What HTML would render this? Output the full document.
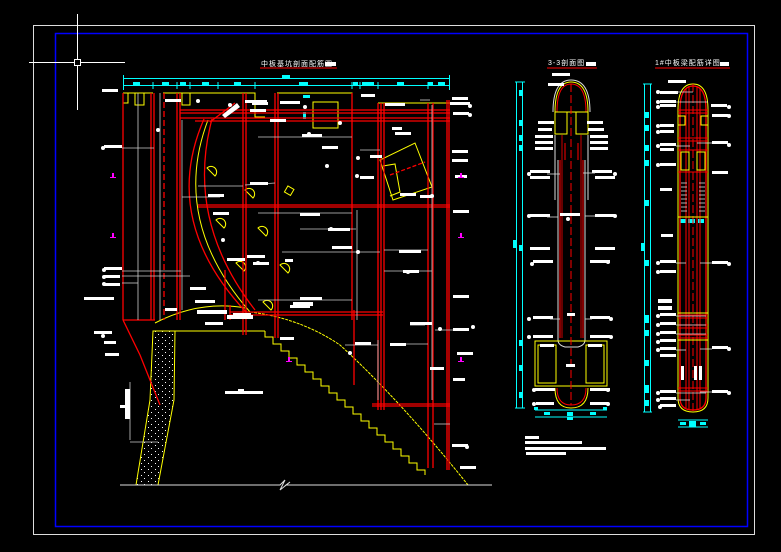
<!DOCTYPE html>
<html><head><meta charset="utf-8"><style>
html,body{margin:0;padding:0;background:#000;width:781px;height:552px;overflow:hidden}
svg{display:block}
text{font-family:"Liberation Sans","Noto Sans CJK SC",sans-serif}
</style></head><body>
<svg width="781" height="552" viewBox="0 0 781 552" xmlns="http://www.w3.org/2000/svg">
<defs>
<pattern id="dots" width="7" height="6" patternUnits="userSpaceOnUse">
<rect x="1" y="1" width="1" height="1" fill="#fff"/><rect x="4" y="4" width="1" height="1" fill="#fff"/>
</pattern>
</defs>
<rect width="781" height="552" fill="#000"/>
<!-- frames -->
<rect x="33.5" y="25.5" width="721" height="509" fill="none" stroke="#ddd" stroke-width="1"/>
<rect x="55.5" y="33.5" width="692" height="493" fill="none" stroke="#0000ff" stroke-width="1.5"/>
<!-- crosshair -->
<g stroke="#fff" stroke-width="1" fill="none">
<line x1="77.5" y1="14" x2="77.5" y2="110"/><line x1="29" y1="62.5" x2="125" y2="62.5"/>
<rect x="74.5" y="59.5" width="6" height="6" fill="#000"/>
</g>

<!-- LEFT DRAWING -->
<text x="261" y="66" font-size="7" fill="#fff" letter-spacing="1">中板基坑剖面配筋图</text>
<rect x="325" y="62" width="11" height="4" fill="#fff"/>
<line x1="260" y1="68" x2="337" y2="68" stroke="#f00"/>
<!-- dimension lines -->
<g stroke="#0ff" stroke-width="1" fill="none">
<line x1="123" y1="78.5" x2="450" y2="78.5"/><line x1="123" y1="85.5" x2="450" y2="85.5"/>
<line x1="123.5" y1="75" x2="123.5" y2="90"/><line x1="449.5" y1="75" x2="449.5" y2="90"/>
<line x1="153" y1="82" x2="153" y2="89"/><line x1="177" y1="82" x2="177" y2="89"/><line x1="190" y1="82" x2="190" y2="89"/>
<line x1="218" y1="82" x2="218" y2="89"/><line x1="255" y1="82" x2="255" y2="89"/><line x1="352" y1="82" x2="352" y2="89"/>
<line x1="360" y1="82" x2="360" y2="89"/><line x1="378" y1="82" x2="378" y2="89"/><line x1="428" y1="82" x2="428" y2="89"/>
</g>
<g fill="#0ff">
<rect x="282" y="75" width="8" height="4"/>
<rect x="133" y="82" width="7" height="3"/><rect x="162" y="82" width="7" height="3"/><rect x="180" y="82" width="6" height="3"/>
<rect x="202" y="82" width="7" height="3"/><rect x="234" y="82" width="7" height="3"/><rect x="299" y="82" width="9" height="3"/>
<rect x="353" y="82" width="5" height="3"/><rect x="362" y="82" width="5" height="3"/><rect x="367" y="82" width="7" height="3"/>
<rect x="397" y="82" width="7" height="3"/><rect x="428" y="82" width="5" height="3"/><rect x="438" y="82" width="7" height="3"/>
<rect x="303" y="95" width="7" height="3"/><rect x="303" y="112" width="3" height="7"/>
</g>
<!-- yellow outlines -->
<g stroke="#ff0" stroke-width="1" fill="none">
<path d="M123 93 H153 M123 93 V103 H128 V93 M135 93 V105 H144 V93"/>
<path d="M163 93 H220 M182 93 V105 H190 V93 M190 93 H255 V117 H265"/>
<path d="M277 93 H352 V117"/>
<rect x="313" y="102" width="25" height="26"/>
<path d="M378 103 H450 M378 103 V112"/>
<path d="M380 160 L415 143 L432 187 L393 200 Z"/>
<path d="M383 166 L395 164 L400 192 L390 196"/>
<path d="M383 207 H450"/>
<path d="M155 323 Q200 300 245 308"/>
<path d="M155 331 H265"/>
<path d="M265 331 h0 v6 h8 v7 h8 v7 h8 v7 h8 v7 h8 v7 h8 v7 h8 v7 h8 v7 h8 v7 h8 v7 h8 v7 h8 v7 h8 v7 h8 v7 h8 v7 h8 v7 h8 v7 h8 v7 h8 v7 h8 v5"/>
<path d="M250 312 Q300 318 340 345 Q400 400 468 485" stroke-dasharray="3 1"/>
<path d="M208 120 Q170 220 250 312"/>
<!-- small yellow loops -->
<path d="M207 168 a5 5 0 1 1 8 8 z"/><path d="M245 190 a5 5 0 1 1 8 8 z"/><path d="M258 228 a5 5 0 1 1 8 8 z"/>
<path d="M236 263 a5 5 0 1 1 8 8 z"/><path d="M280 265 a5 5 0 1 1 8 8 z"/><path d="M263 302 a5 5 0 1 1 8 8 z"/>
<path d="M216 220 a5 5 0 1 1 8 8 z"/>
<rect x="286" y="187" width="7" height="7" transform="rotate(30 289 190)"/>
<!-- concrete pile -->
<path d="M153 331 L175 331 L174 400 L158 485 L136 485 L150 400 Z" fill="url(#dots)"/>
</g>
<!-- red structure -->
<g stroke="#f00" stroke-width="1.3" fill="none">
<line x1="123" y1="93" x2="123" y2="320"/><path d="M123 320 L140 355 L160 405"/>
<line x1="151" y1="93" x2="151" y2="320"/><line x1="154" y1="93" x2="154" y2="320"/>
<line x1="164" y1="93" x2="164" y2="320" stroke-dasharray="6 3"/>
<line x1="177" y1="93" x2="177" y2="320"/><line x1="180" y1="93" x2="180" y2="320"/>
<line x1="123" y1="320" x2="155" y2="320"/>
<line x1="180" y1="110" x2="450" y2="110"/><line x1="180" y1="113" x2="450" y2="113"/>
<line x1="180" y1="118" x2="450" y2="118"/><line x1="195" y1="121" x2="450" y2="121"/>
<line x1="243" y1="93" x2="243" y2="335"/><line x1="246" y1="93" x2="246" y2="335"/>
<line x1="275" y1="93" x2="275" y2="338"/><line x1="278" y1="93" x2="278" y2="338"/>
<line x1="352" y1="93" x2="352" y2="320"/>
<line x1="378" y1="103" x2="378" y2="410"/><line x1="381" y1="103" x2="381" y2="410"/><line x1="384" y1="103" x2="384" y2="410"/>
<line x1="428" y1="103" x2="428" y2="468"/><line x1="433" y1="103" x2="433" y2="468"/>
<line x1="447" y1="100" x2="447" y2="470"/><line x1="449" y1="100" x2="449" y2="470"/>
<line x1="198" y1="205" x2="450" y2="205"/><line x1="198" y1="207" x2="450" y2="207"/>
<line x1="230" y1="312" x2="383" y2="312"/><line x1="230" y1="315" x2="383" y2="315"/>
<line x1="372" y1="404" x2="450" y2="404"/><line x1="372" y1="406" x2="450" y2="406"/>
<line x1="354" y1="310" x2="354" y2="385"/>
<path d="M204 119 Q160 220 246 312"/>
<path d="M212 119 Q185 220 255 310"/>
<line x1="230" y1="305" x2="230" y2="320"/><line x1="225" y1="270" x2="225" y2="320"/>
<line x1="235" y1="103" x2="210" y2="122"/>
<line x1="390" y1="175" x2="425" y2="162" stroke-dasharray="4 2"/>
</g>
<!-- ground line -->
<path d="M120 485 H280 L285 480 L280 490 L290 482 L286 485 H492" stroke="#ddd" fill="none"/>
<!-- white leaders left drawing -->
<g stroke="#ccc" stroke-width="0.8" fill="none">
<line x1="138" y1="93" x2="138" y2="320"/>
<line x1="160" y1="93" x2="160" y2="320"/>
<line x1="182" y1="120" x2="182" y2="310"/>
<line x1="258" y1="137" x2="352" y2="137"/><line x1="258" y1="213" x2="352" y2="213"/>
<line x1="258" y1="300" x2="352" y2="300"/><line x1="360" y1="150" x2="380" y2="150"/>
<line x1="122" y1="148" x2="154" y2="148"/><line x1="122" y1="271" x2="181" y2="271"/>
<line x1="122" y1="276" x2="190" y2="276"/><line x1="122" y1="283" x2="138" y2="283"/>
<line x1="198" y1="186" x2="243" y2="186"/><line x1="182" y1="197" x2="220" y2="197"/>
<line x1="245" y1="185" x2="275" y2="183"/><line x1="300" y1="229" x2="356" y2="229"/>
<line x1="357" y1="210" x2="357" y2="320"/><line x1="282" y1="252" x2="380" y2="252"/>
<line x1="384" y1="250" x2="428" y2="250"/><line x1="384" y1="271" x2="432" y2="271"/>
<line x1="432" y1="105" x2="432" y2="400"/><line x1="420" y1="100" x2="430" y2="100"/>
<line x1="410" y1="325" x2="425" y2="325"/><line x1="390" y1="344" x2="428" y2="344"/>
<line x1="435" y1="330" x2="460" y2="330"/><line x1="434" y1="424" x2="450" y2="424"/>
<line x1="345" y1="345" x2="378" y2="345"/><line x1="378" y1="340" x2="378" y2="400"/>
<line x1="130" y1="382" x2="130" y2="440"/><line x1="130" y1="442" x2="158" y2="442"/>
</g>
<g fill="#fff">
<rect x="102" y="89" width="16" height="3"/><rect x="165" y="99" width="16" height="3"/><rect x="245" y="100" width="22" height="3"/>
<rect x="252" y="102" width="16" height="3"/><rect x="280" y="101" width="20" height="3"/><rect x="250" y="109" width="16" height="3"/>
<rect x="270" y="119" width="16" height="3"/><rect x="302" y="134" width="20" height="3"/><rect x="322" y="146" width="16" height="3"/>
<rect x="361" y="94" width="14" height="3"/><rect x="385" y="103" width="20" height="3"/><rect x="452" y="97" width="16" height="3"/>
<rect x="450" y="102" width="20" height="3"/><rect x="453" y="112" width="16" height="3"/><rect x="392" y="127" width="10" height="3"/>
<rect x="395" y="132" width="16" height="3"/><rect x="370" y="155" width="12" height="3"/><rect x="360" y="176" width="14" height="3"/>
<rect x="452" y="150" width="16" height="3"/><rect x="452" y="159" width="16" height="3"/><rect x="455" y="175" width="12" height="3"/>
<rect x="453" y="210" width="16" height="3"/><rect x="400" y="193" width="16" height="3"/><rect x="420" y="195" width="12" height="3"/>
<rect x="104" y="145" width="18" height="3"/><rect x="250" y="182" width="18" height="3"/><rect x="208" y="194" width="16" height="3"/>
<rect x="213" y="212" width="16" height="3"/><rect x="300" y="213" width="20" height="3"/><rect x="328" y="228" width="22" height="3"/>
<rect x="227" y="258" width="18" height="3"/><rect x="332" y="246" width="20" height="3"/><rect x="399" y="250" width="22" height="3"/>
<rect x="247" y="255" width="18" height="3"/><rect x="253" y="262" width="16" height="3"/><rect x="285" y="259" width="8" height="3"/>
<rect x="403" y="270" width="16" height="3"/><rect x="104" y="267" width="18" height="3"/><rect x="104" y="275" width="16" height="3"/>
<rect x="104" y="283" width="16" height="3"/><rect x="84" y="297" width="30" height="3"/><rect x="94" y="331" width="18" height="3"/>
<rect x="104" y="341" width="12" height="3"/><rect x="105" y="353" width="14" height="3"/><rect x="190" y="287" width="16" height="3"/>
<rect x="300" y="297" width="22" height="3"/><rect x="195" y="300" width="20" height="3"/><rect x="453" y="295" width="16" height="3"/>
<rect x="410" y="322" width="22" height="3"/><rect x="453" y="328" width="16" height="3"/><rect x="390" y="343" width="16" height="3"/>
<rect x="355" y="342" width="16" height="3"/><rect x="290" y="305" width="20" height="3"/><rect x="165" y="308" width="12" height="3"/>
<rect x="233" y="313" width="18" height="3"/><rect x="197" y="310" width="30" height="4"/><rect x="227" y="315" width="26" height="4"/>
<rect x="293" y="302" width="20" height="4"/><rect x="205" y="322" width="18" height="3"/><rect x="280" y="337" width="14" height="3"/>
<rect x="125" y="389" width="5" height="30"/><rect x="120" y="405" width="10" height="3"/><rect x="452" y="444" width="16" height="3"/>
<rect x="460" y="466" width="16" height="3"/><rect x="225" y="391" width="38" height="3"/><rect x="238" y="389" width="6" height="2"/>
<rect x="457" y="352" width="16" height="3"/><rect x="453" y="378" width="12" height="3"/><rect x="430" y="367" width="14" height="3"/>
<circle cx="103" cy="148" r="2"/><circle cx="158" cy="130" r="2"/><circle cx="309" cy="134" r="2"/><circle cx="265" cy="102" r="2"/>
<circle cx="198" cy="101" r="2"/><circle cx="340" cy="123" r="2"/><circle cx="327" cy="166" r="2"/><circle cx="357" cy="176" r="2"/>
<circle cx="358" cy="158" r="2"/><circle cx="470" cy="106" r="2"/><circle cx="470" cy="115" r="2"/><circle cx="432" cy="196" r="2"/>
<circle cx="223" cy="240" r="2"/><circle cx="331" cy="229" r="2"/><circle cx="258" cy="263" r="2"/><circle cx="358" cy="252" r="2"/>
<circle cx="408" cy="272" r="2"/><circle cx="440" cy="329" r="2"/><circle cx="473" cy="327" r="2"/><circle cx="350" cy="353" r="2"/>
<circle cx="104" cy="270" r="2"/><circle cx="104" cy="277" r="2"/><circle cx="104" cy="284" r="2"/><circle cx="103" cy="336" r="2"/>
<circle cx="467" cy="447" r="2"/><circle cx="305" cy="107" r="2"/><circle cx="230" cy="105" r="2"/>
</g>
<path d="M222 115 L237 103 L240 107 L225 118 Z" fill="#fff"/>
<g fill="#f0f"><rect x="112" y="173" width="2" height="4"/><rect x="110" y="177" width="6" height="1"/>
<rect x="112" y="233" width="2" height="4"/><rect x="110" y="237" width="6" height="1"/>
<rect x="460" y="173" width="2" height="4"/><rect x="458" y="177" width="6" height="1"/>
<rect x="460" y="233" width="2" height="4"/><rect x="458" y="237" width="6" height="1"/>
<rect x="288" y="357" width="2" height="4"/><rect x="286" y="361" width="6" height="1"/>
<rect x="460" y="357" width="2" height="4"/><rect x="458" y="361" width="6" height="1"/></g>

<!-- MIDDLE DRAWING 3-3 -->
<text x="548" y="65" font-size="7" fill="#fff" letter-spacing="1">3-3剖面图</text>
<rect x="586" y="62" width="10" height="4" fill="#fff"/>
<line x1="547" y1="68" x2="597" y2="68" stroke="#f00"/>
<g stroke="#0ff" fill="none">
<line x1="516.5" y1="82" x2="516.5" y2="408"/><line x1="522.5" y1="82" x2="522.5" y2="408"/>
<line x1="515" y1="82" x2="525" y2="82"/><line x1="515" y1="408" x2="525" y2="408"/>
<line x1="535" y1="410" x2="607" y2="410"/><line x1="535" y1="417" x2="607" y2="417"/>
</g>
<g fill="#0ff"><rect x="513" y="240" width="3" height="8"/><rect x="519" y="90" width="3" height="6"/><rect x="519" y="120" width="3" height="6"/>
<rect x="519" y="135" width="3" height="6"/><rect x="519" y="145" width="3" height="6"/><rect x="519" y="245" width="3" height="6"/>
<rect x="519" y="340" width="3" height="6"/><rect x="519" y="365" width="3" height="6"/><rect x="519" y="392" width="3" height="6"/>
<rect x="544" y="412" width="6" height="3"/><rect x="567" y="412" width="6" height="4"/><rect x="590" y="412" width="6" height="3"/>
<rect x="567" y="417" width="6" height="3"/><rect x="534" y="407" width="4" height="3"/><rect x="603" y="407" width="4" height="3"/></g>
<g fill="none" stroke-width="1">
<path d="M555 112 Q555 82 571 82 Q588 82 588 112 Z" stroke="#ff0"/>
<path d="M557 112 Q557 84 571 84 Q586 84 586 112" stroke="#f00"/>
<path d="M553 112 Q553 80 571 80 Q590 80 590 112" stroke="#ddd"/>
<path d="M555 112 V133 M588 112 V133" stroke="#ff0"/>
<rect x="555" y="112" width="12" height="22" stroke="#ff0"/><rect x="576" y="112" width="12" height="22" stroke="#ff0"/>
<path d="M558 160 V340 Q558 345 565 347 H578 Q585 345 585 340 V160" stroke="#ddd"/>
<path d="M560 160 V338 M583 160 V338" stroke="#f00"/>
<path d="M562 135 V338 M581 135 V338" stroke="#f00" stroke-width="0.8"/>
<path d="M555 135 V200 M588 135 V200" stroke="#ddd"/>
<rect x="535" y="341" width="72" height="45" stroke="#ff0"/>
<rect x="538" y="345" width="18" height="38" stroke="#ff0"/><rect x="586" y="345" width="18" height="38" stroke="#ff0"/>
<path d="M555 388 Q555 408 571 408 Q588 408 588 388" stroke="#ff0"/>
<path d="M557 388 Q557 405 571 405 Q586 405 586 388" stroke="#f00"/>
<line x1="571" y1="84" x2="571" y2="405" stroke="#f00" stroke-dasharray="8 3"/>
<line x1="565" y1="143" x2="565" y2="160" stroke="#f00"/><line x1="578" y1="143" x2="578" y2="160" stroke="#f00"/>
</g>
<g fill="#fff">
<rect x="552" y="73" width="18" height="3"/><rect x="548" y="83" width="16" height="3"/>
<rect x="538" y="121" width="16" height="3"/><rect x="538" y="128" width="14" height="3"/><rect x="535" y="135" width="18" height="3"/>
<rect x="535" y="141" width="18" height="3"/><rect x="535" y="147" width="18" height="3"/><rect x="587" y="121" width="16" height="3"/>
<rect x="588" y="128" width="16" height="3"/><rect x="590" y="135" width="18" height="3"/><rect x="590" y="141" width="18" height="3"/>
<rect x="590" y="147" width="18" height="3"/><rect x="530" y="170" width="20" height="3"/><rect x="530" y="176" width="20" height="3"/>
<rect x="592" y="170" width="20" height="3"/><rect x="595" y="176" width="20" height="3"/><rect x="530" y="214" width="20" height="3"/>
<rect x="560" y="213" width="20" height="3"/><rect x="595" y="214" width="20" height="3"/><rect x="530" y="247" width="20" height="3"/>
<rect x="595" y="247" width="20" height="3"/><rect x="533" y="260" width="20" height="3"/><rect x="590" y="260" width="20" height="3"/>
<rect x="567" y="313" width="8" height="3"/><rect x="533" y="316" width="20" height="3"/><rect x="590" y="316" width="20" height="3"/>
<rect x="533" y="335" width="20" height="3"/><rect x="590" y="335" width="20" height="3"/><rect x="540" y="344" width="14" height="3"/>
<rect x="588" y="344" width="14" height="3"/><rect x="566" y="364" width="9" height="3"/><rect x="535" y="388" width="20" height="3"/>
<rect x="590" y="388" width="20" height="3"/><rect x="536" y="402" width="18" height="3"/><rect x="590" y="402" width="18" height="3"/>
<rect x="525" y="436" width="14" height="3"/><rect x="525" y="441" width="57" height="3"/><rect x="525" y="447" width="81" height="3"/>
<rect x="526" y="452" width="40" height="3"/>
<circle cx="529" cy="174" r="2"/><circle cx="615" cy="174" r="2"/><circle cx="529" cy="216" r="2"/><circle cx="615" cy="216" r="2"/>
<circle cx="529" cy="319" r="2"/><circle cx="611" cy="319" r="2"/><circle cx="529" cy="337" r="2"/><circle cx="611" cy="337" r="2"/>
<circle cx="534" cy="390" r="2"/><circle cx="608" cy="390" r="2"/><circle cx="534" cy="404" r="2"/><circle cx="608" cy="404" r="2"/>
<circle cx="532" cy="264" r="2"/><circle cx="608" cy="262" r="2"/><circle cx="568" cy="219" r="2"/>
</g>

<!-- RIGHT DRAWING -->
<text x="655" y="65" font-size="7" fill="#fff" letter-spacing="1">1#中板梁配筋详图</text>
<rect x="720" y="62" width="9" height="4" fill="#fff"/>
<line x1="655" y1="68" x2="730" y2="68" stroke="#f00"/>
<g stroke="#0ff" fill="none">
<line x1="644.5" y1="84" x2="644.5" y2="412"/><line x1="650.5" y1="84" x2="650.5" y2="412"/>
<line x1="643" y1="84" x2="652" y2="84"/><line x1="643" y1="412" x2="652" y2="412"/>
<line x1="678" y1="420" x2="708" y2="420"/><line x1="678" y1="427" x2="708" y2="427"/>
</g>
<g fill="#0ff"><rect x="641" y="243" width="3" height="8"/><rect x="645" y="112" width="4" height="6"/><rect x="645" y="125" width="4" height="6"/>
<rect x="645" y="145" width="4" height="6"/><rect x="645" y="160" width="4" height="6"/><rect x="645" y="200" width="4" height="6"/>
<rect x="645" y="260" width="4" height="6"/><rect x="645" y="315" width="4" height="8"/><rect x="645" y="330" width="4" height="6"/>
<rect x="645" y="360" width="4" height="6"/><rect x="645" y="385" width="4" height="8"/><rect x="645" y="400" width="4" height="6"/>
<rect x="680" y="219" width="6" height="4"/><rect x="688" y="219" width="7" height="4"/><rect x="698" y="219" width="6" height="4"/>
<rect x="680" y="422" width="6" height="3"/><rect x="689" y="421" width="7" height="6"/><rect x="700" y="422" width="6" height="3"/></g>
<g fill="none">
<path d="M678 110 Q678 84 693 84 Q708 84 708 110 V398 Q708 412 693 412 Q678 412 678 398 Z" stroke="#ff0"/>
<path d="M680 110 Q680 86 693 86 Q706 86 706 110 V398 Q706 410 693 410 Q680 410 680 398 Z" stroke="#f00" stroke-width="1.3"/>
<line x1="686" y1="88" x2="686" y2="408" stroke="#f00"/><line x1="689" y1="86" x2="689" y2="410" stroke="#f00"/>
<line x1="697" y1="86" x2="697" y2="410" stroke="#f00"/><line x1="700" y1="88" x2="700" y2="408" stroke="#f00"/>
<line x1="693" y1="84" x2="693" y2="412" stroke="#f00" stroke-dasharray="8 3"/>
<path d="M678 116 H685 V125 H678 M708 116 H701 V125 H708" stroke="#ff0"/>
<rect x="681" y="152" width="8" height="18" stroke="#ff0"/><rect x="697" y="152" width="8" height="18" stroke="#ff0"/>
<g stroke="#f00"><line x1="678" y1="110" x2="708" y2="110"/><line x1="678" y1="113" x2="708" y2="113"/>
<line x1="678" y1="138" x2="708" y2="138"/><line x1="678" y1="141" x2="708" y2="141"/>
<line x1="678" y1="150" x2="708" y2="150"/><line x1="678" y1="172" x2="708" y2="172"/>
<line x1="678" y1="315" x2="708" y2="315"/><line x1="678" y1="318" x2="708" y2="318"/>
<line x1="678" y1="325" x2="708" y2="325"/><line x1="678" y1="328" x2="708" y2="328"/>
<line x1="678" y1="335" x2="708" y2="335"/><line x1="678" y1="338" x2="708" y2="338"/>
<line x1="678" y1="388" x2="708" y2="388"/><line x1="678" y1="391" x2="708" y2="391"/></g>
<line x1="678" y1="217" x2="708" y2="217" stroke="#ff0"/>
<line x1="678" y1="313" x2="708" y2="313" stroke="#ff0"/>
<line x1="678" y1="340" x2="708" y2="340" stroke="#ff0"/>
</g>
<g stroke="#ddd" stroke-width="0.8">
<line x1="681" y1="183" x2="687" y2="183"/><line x1="681" y1="187" x2="687" y2="187"/><line x1="681" y1="191" x2="687" y2="191"/>
<line x1="681" y1="195" x2="687" y2="195"/><line x1="681" y1="199" x2="687" y2="199"/><line x1="681" y1="203" x2="687" y2="203"/>
<line x1="681" y1="207" x2="687" y2="207"/><line x1="681" y1="211" x2="687" y2="211"/>
<line x1="699" y1="183" x2="705" y2="183"/><line x1="699" y1="187" x2="705" y2="187"/><line x1="699" y1="191" x2="705" y2="191"/>
<line x1="699" y1="195" x2="705" y2="195"/><line x1="699" y1="199" x2="705" y2="199"/><line x1="699" y1="203" x2="705" y2="203"/>
<line x1="699" y1="207" x2="705" y2="207"/><line x1="699" y1="211" x2="705" y2="211"/>
</g>
<g fill="#fff">
<rect x="668" y="80" width="18" height="3"/><rect x="660" y="91" width="18" height="3"/><rect x="660" y="100" width="16" height="3"/>
<rect x="660" y="104" width="16" height="3"/><rect x="711" y="104" width="16" height="3"/><rect x="712" y="114" width="16" height="3"/>
<rect x="660" y="124" width="14" height="3"/><rect x="660" y="130" width="14" height="3"/><rect x="660" y="143" width="16" height="3"/>
<rect x="712" y="141" width="16" height="3"/><rect x="660" y="148" width="14" height="3"/><rect x="660" y="163" width="16" height="3"/>
<rect x="712" y="171" width="16" height="3"/><rect x="660" y="188" width="12" height="3"/><rect x="661" y="234" width="12" height="3"/>
<rect x="660" y="260" width="16" height="3"/><rect x="712" y="261" width="16" height="3"/><rect x="660" y="270" width="16" height="3"/>
<rect x="658" y="299" width="14" height="4"/><rect x="658" y="306" width="14" height="4"/><rect x="660" y="313" width="16" height="3"/>
<rect x="660" y="322" width="16" height="3"/><rect x="660" y="331" width="16" height="3"/><rect x="660" y="339" width="16" height="3"/>
<rect x="660" y="347" width="16" height="3"/><rect x="712" y="346" width="16" height="3"/><rect x="660" y="354" width="16" height="3"/>
<rect x="660" y="390" width="16" height="3"/><rect x="712" y="390" width="16" height="3"/><rect x="660" y="397" width="16" height="3"/>
<rect x="660" y="404" width="16" height="3"/><rect x="681" y="366" width="3" height="14"/><rect x="694" y="366" width="3" height="14"/>
<rect x="699" y="366" width="3" height="14"/>
<circle cx="658" cy="92" r="2"/><circle cx="658" cy="102" r="2"/><circle cx="658" cy="107" r="2"/><circle cx="729" cy="107" r="2"/>
<circle cx="729" cy="116" r="2"/><circle cx="658" cy="126" r="2"/><circle cx="658" cy="132" r="2"/><circle cx="729" cy="145" r="2"/>
<circle cx="658" cy="146" r="2"/><circle cx="658" cy="165" r="2"/><circle cx="729" cy="264" r="2"/><circle cx="658" cy="263" r="2"/>
<circle cx="658" cy="272" r="2"/><circle cx="658" cy="316" r="2"/><circle cx="658" cy="325" r="2"/><circle cx="658" cy="334" r="2"/>
<circle cx="658" cy="342" r="2"/><circle cx="658" cy="350" r="2"/><circle cx="729" cy="349" r="2"/><circle cx="658" cy="393" r="2"/>
<circle cx="729" cy="393" r="2"/><circle cx="658" cy="400" r="2"/><circle cx="660" cy="407" r="2"/>
</g>
<g stroke="#ddd" stroke-width="0.8" fill="none">
<line x1="676" y1="92" x2="693" y2="92"/><line x1="676" y1="102" x2="708" y2="102"/><line x1="676" y1="146" x2="690" y2="146"/>
<line x1="697" y1="143" x2="712" y2="143"/><line x1="676" y1="263" x2="686" y2="263"/><line x1="700" y1="263" x2="712" y2="263"/>
<line x1="676" y1="316" x2="706" y2="316"/><line x1="676" y1="325" x2="706" y2="325"/><line x1="676" y1="334" x2="706" y2="334"/>
<line x1="676" y1="350" x2="686" y2="350"/><line x1="700" y1="349" x2="712" y2="349"/><line x1="676" y1="393" x2="706" y2="393"/>
<line x1="676" y1="400" x2="690" y2="400"/><line x1="700" y1="392" x2="712" y2="392"/>
<line x1="547" y1="217" x2="558" y2="217"/><line x1="585" y1="216" x2="595" y2="216"/><line x1="547" y1="174" x2="560" y2="174"/>
<line x1="583" y1="173" x2="595" y2="173"/><line x1="550" y1="319" x2="560" y2="319"/><line x1="585" y1="319" x2="592" y2="319"/>
</g>
</svg>
</body></html>
